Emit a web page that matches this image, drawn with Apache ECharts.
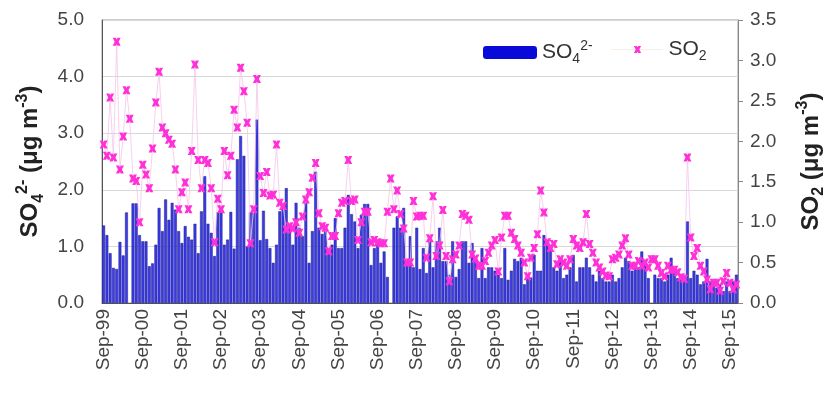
<!DOCTYPE html>
<html>
<head>
<meta charset="utf-8">
<script src="https://cdn.jsdelivr.net/npm/echarts@6/dist/echarts.min.js"></script>
<style>
html,body{margin:0;padding:0;background:#fff;}
#chart{width:835px;height:397px;}
</style>
</head>
<body>
<div id="chart"></div>
<script>
// Monthly categories from Sep-1999 through Nov-2015
var startYear = 1999, startMonth = 8, monthCount = 195;
var monthNames = ['Jan','Feb','Mar','Apr','May','Jun','Jul','Aug','Sep','Oct','Nov','Dec'];
var categories = [];
for (var k = 0; k < monthCount; k++) {
  var m = (startMonth + k) % 12;
  var y = startYear + Math.floor((startMonth + k) / 12);
  categories.push(monthNames[m] + '-' + String(y % 100).padStart(2, '0'));
}

// SO4^2- (µg m-3), left axis — one row per Sep..Aug year
var so4 = [
  1.37, 1.2, 0.88, 0.62, 0.6, 1.08, 0.84, 1.6, null, 1.76, 1.76, 1.2,
  1.09, 1.09, 0.65, 0.7, 1.03, 1.68, 1.27, 1.83, 1.47, 1.77, 1.65, 1.27,
  1.06, 1.36, 1.17, 1.12, 1.4, 0.88, 1.62, 2.24, 1.4, 1.24, 0.83, 1.6,
  1.6, 1.03, 1.12, 1.61, 0.96, 2.54, 2.95, 2.6, 1.0, 1.6, 1.6, 3.24,
  1.11, 1.63, 1.13, 0.97, 0.71, 1.03, 1.62, 1.73, 2.03, 1.33, 1.03, 1.77,
  1.33, 1.18, 1.77, 0.71, 1.27, 2.32, 1.33, 1.22, 1.27, 0.97, 1.03, 1.5,
  0.97, 0.97, 1.33, 1.91, 1.57, 1.44, 0.97, 1.56, 1.75, 1.75, 0.67, 0.97,
  1.03, 0.71, 0.91, 0.46, null, 1.33, 1.53, 1.33, 1.68, 0.74, 1.18, 0.63,
  1.33, 0.6, 0.97, 0.53, 1.09, 0.63, 1.09, 1.33, 0.74, 0.74, 0.5, 1.09,
  0.46, 0.6, 1.09, 1.09, 0.71, 1.06, 0.74, 0.44, 0.97, 0.44, 0.63, 0.63,
  0.57, 0.5, 0.44, 0.97, 0.41, 0.57, 0.78, 0.74, 0.8, 0.33, 0.5, 0.45,
  0.85, 0.57, 0.57, 1.2, 1.03, 0.97, 0.63, 0.57, 0.74, 0.44, 0.5, 0.63,
  0.85, 0.38, 0.63, 0.63, 0.8, 0.63, 0.5, 0.38, 0.57, 0.44, 0.38, 0.38,
  0.5, 0.38, 0.44, 0.63, 0.8, 0.74, 0.57, 0.63, 0.63, 0.91, 0.74, 0.44,
  null, 0.5, 0.44, 0.44, 0.38, 0.5, 0.8, 0.57, 0.44, 0.44, 0.5, 1.44,
  0.44, 0.57, 0.5, 0.33, 0.38, 0.78, 0.38, 0.33, 0.27, 0.33, 0.21, 0.38,
  0.21, 0.38, 0.5
];

// SO2 (µg m-3), right axis
var so2 = [
  1.96, 1.82, 2.54, 1.8, 3.23, 1.65, 2.06, 2.63, 2.28, 1.54, 1.51, 1.0,
  1.71, 1.59, 1.42, 1.91, 2.48, 2.86, 2.17, 2.1, 2.02, 1.97, 1.65, 1.16,
  1.37, 1.49, 1.16, 1.88, 2.95, 1.77, 1.42, 1.77, 1.73, 1.42, 0.75, 1.29,
  1.16, 1.88, 1.58, 1.82, 2.39, 2.17, 2.91, 2.62, 2.23, 0.74, 1.16, 2.77,
  1.57, 1.36, 1.62, 1.33, 1.34, 1.96, 1.24, 1.2, 0.91, 0.95, 0.92, 1.0,
  0.87, 1.07, 1.28, 1.37, 1.55, 1.73, 1.11, 0.95, 0.93, 0.64, 0.83, 0.83,
  1.11, 1.24, 1.26, 1.77, 1.26, 1.28, 0.78, 1.0, 1.13, 1.13, 0.75, 0.78,
  0.75, 0.74, 0.74, 1.13, 1.54, 1.16, 1.39, 1.1, 0.92, 0.5, 0.5, 1.26,
  1.07, 1.08, 1.08, 0.56, 0.8, 1.32, 0.58, 0.71, 1.15, 0.58, 0.27, 0.54,
  0.6, 0.71, 1.1, 1.08, 1.03, 0.6, 0.55, 0.46, 0.46, 0.52, 0.62, 0.71,
  0.78, 0.39, 0.81, 1.08, 1.08, 0.87, 0.79, 0.71, 0.62, 0.5, 0.33, 0.56,
  0.68, 0.85, 1.39, 1.12, 0.75, 0.68, 0.73, 0.48, 0.54, 0.5, 0.46, 0.54,
  0.79, 0.71, 0.68, 0.75, 1.1, 0.73, 0.62, 0.5, 0.44, 0.39, 0.34, 0.33,
  0.54, 0.56, 0.6, 0.71, 0.8, 0.6, 0.46, 0.46, 0.52, 0.46, 0.5, 0.44,
  0.54, 0.54, 0.46, 0.37, 0.33, 0.46, 0.41, 0.41, 0.38, 0.32, 0.3, 1.8,
  0.81, 0.58, 0.68, 0.46, 0.39, 0.29, 0.17, 0.25, 0.25, 0.15, 0.27, 0.37,
  0.25, 0.17, 0.23
];

var leftTicks = { min: 0, max: 5, interval: 1 };
var rightTicks = { min: 0, max: 3.5, interval: 0.5 };

var FONT = 'Liberation Sans, Arial, Helvetica, sans-serif';
var xMark = 'path://M0,0 L4,0 L5,2 L6,0 L10,0 L7.5,5 L10,10 L6,10 L5,8 L4,10 L0,10 L2.5,5 Z';

function titleRich(size) {
  var sm = Math.round(size * 0.68);
  return {
    n: { fontFamily: FONT, fontSize: size, fontWeight: 'bold', color: '#222', lineHeight: size + 8 },
    sb: { fontFamily: FONT, fontSize: sm, fontWeight: 'bold', color: '#222', lineHeight: sm, verticalAlign: 'bottom' },
    sp: { fontFamily: FONT, fontSize: sm, fontWeight: 'bold', color: '#222', lineHeight: sm, verticalAlign: 'top' }
  };
}
function legendRich(size) {
  var sm = Math.round(size * 0.66);
  return {
    n: { fontFamily: FONT, fontSize: size, color: '#333', lineHeight: size + 6 },
    sb: { fontFamily: FONT, fontSize: sm, color: '#333', lineHeight: sm, verticalAlign: 'bottom' },
    sp: { fontFamily: FONT, fontSize: sm, color: '#333', lineHeight: sm, verticalAlign: 'top' }
  };
}

var chart = echarts.init(document.getElementById('chart'), null, { renderer: 'canvas' });
chart.setOption({
  animation: false,
  backgroundColor: '#fff',
  grid: { left: 102, right: 95, top: 20, bottom: 94, show: true, borderColor: '#9a9a9a', borderWidth: 1, backgroundColor: 'transparent' },
  legend: [
    {
      data: ['SO₄²⁻'], left: 478, top: 34, itemWidth: 54, itemHeight: 13, itemGap: 0,
      itemStyle: { color: '#0a0ad8', borderWidth: 0 },
      formatter: function () { return '{n|SO}{sb|4}{sp|2-}'; },
      textStyle: { rich: legendRich(21) }
    },
    {
      data: ['SO₂'], left: 606, top: 34, itemWidth: 52, itemHeight: 9, itemGap: 0,
      lineStyle: { color: '#f3dcc8', width: 1, type: 'dotted' },
      formatter: function () { return '{n|SO}{sb|2}'; },
      textStyle: { rich: legendRich(21) }
    }
  ],
  xAxis: {
    type: 'category',
    data: categories,
    boundaryGap: true,
    axisLine: { lineStyle: { color: '#555', width: 1 } },
    axisTick: { interval: 11, length: 5, lineStyle: { color: '#555' } },
    axisLabel: { interval: 11, rotate: 90, margin: 6, fontFamily: FONT, fontSize: 19, color: '#444' },
    splitLine: { show: false }
  },
  yAxis: [
    {
      type: 'value', min: leftTicks.min, max: leftTicks.max, interval: leftTicks.interval,
      name: '{n|SO}{sb|4}{sp|2-}{n| (μg m}{sp|-3}{n|)}',
      nameLocation: 'middle', nameRotate: 90, nameGap: 53,
      nameTextStyle: { rich: titleRich(24) },
      axisLine: { show: true, lineStyle: { color: '#555' } },
      axisTick: { show: false },
      axisLabel: { margin: 18, fontFamily: FONT, fontSize: 19, color: '#444', formatter: function (v) { return v.toFixed(1); } },
      splitLine: { show: true, lineStyle: { color: '#d8d8d8', width: 1 } }
    },
    {
      type: 'value', min: rightTicks.min, max: rightTicks.max, interval: rightTicks.interval,
      position: 'right',
      name: '{n|SO}{sb|2}{n| (μg m}{sp|-3}{n|)}',
      nameLocation: 'middle', nameRotate: 90, nameGap: 57,
      nameTextStyle: { rich: titleRich(24) },
      axisLine: { show: true, lineStyle: { color: '#888' } },
      axisTick: { show: true, length: 5, inside: false, lineStyle: { color: '#888' } },
      axisLabel: { margin: 12, fontFamily: FONT, fontSize: 19, color: '#444', formatter: function (v) { return v.toFixed(1); } },
      splitLine: { show: false }
    }
  ],
  series: [
    {
      name: 'SO₄²⁻', type: 'bar', yAxisIndex: 0, data: so4,
      barCategoryGap: '12%',
      itemStyle: { color: '#3a3ae6', borderColor: '#1c1c8c', borderWidth: 0.5 },
      z: 2
    },
    {
      name: 'SO₂', type: 'line', yAxisIndex: 1, data: so2,
      symbol: xMark, symbolSize: 8, showSymbol: true, showAllSymbol: true,
      lineStyle: { color: '#f5c4ea', width: 0.8 },
      itemStyle: { color: '#ff30d8' },
      z: 3
    }
  ]
});
</script>
</body>
</html>
